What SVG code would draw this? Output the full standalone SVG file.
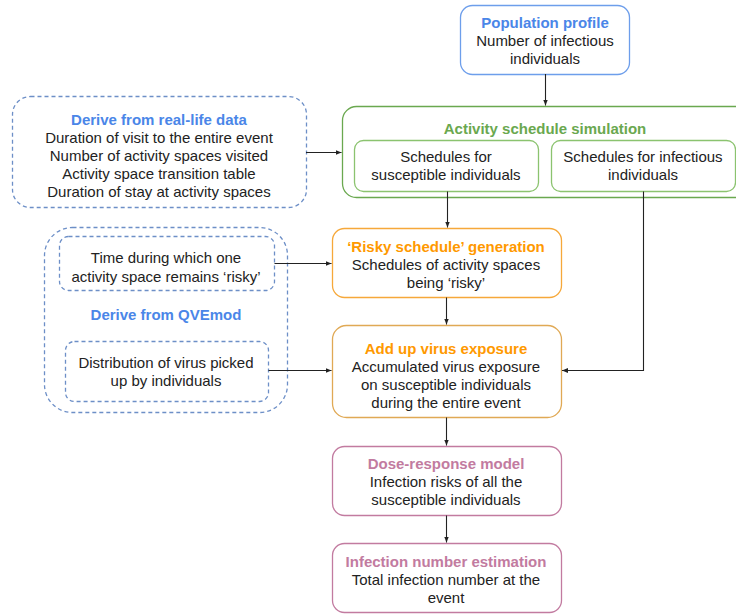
<svg xmlns="http://www.w3.org/2000/svg" width="736" height="614" viewBox="0 0 736 614">
<defs>
<marker id="ah" viewBox="0 0 10 10" refX="10" refY="5" markerWidth="6" markerHeight="6" markerUnits="userSpaceOnUse" orient="auto">
<path d="M0,1 L10,5 L0,9 z" fill="#222"/>
</marker>
<style>
text{font-family:"Liberation Sans",Arial,sans-serif;font-size:15px;fill:#222;text-anchor:middle;dominant-baseline:central}
.t{font-weight:bold}
.blue{fill:#4a86e8}.green{fill:#6aa84f}.orange{fill:#ff9900}.pink{fill:#c27ba0}
.box{fill:#fff;stroke-width:1.3}
.dash{fill:#fff;stroke:#6d8fc7;stroke-width:1.3;stroke-dasharray:4,3}
.c{fill:none;stroke:#222;stroke-width:1.1;marker-end:url(#ah)}
</style>
</defs>
<rect width="736" height="614" fill="#fff"/>
<g id="population">
<rect class="box" x="460.5" y="5.5" width="169" height="69" rx="12" stroke="#6d9eeb"/>
<text class="t blue" x="545" y="22">Population profile</text>
<text x="545" y="40">Number of infectious</text>
<text x="545" y="58">individuals</text>
</g>
<g id="reallife">
<rect class="dash" x="12.5" y="96.5" width="294" height="111" rx="18"/>
<text class="t blue" x="159" y="119">Derive from real-life data</text>
<text x="159" y="137">Duration of visit to the entire event</text>
<text x="159" y="155">Number of activity spaces visited</text>
<text x="159" y="173">Activity space transition table</text>
<text x="159" y="191">Duration of stay at activity spaces</text>
</g>
<g id="activity">
<rect class="box" x="342.5" y="106.5" width="410" height="91" rx="14" stroke="#6aa84f"/>
<text class="t green" x="545" y="128">Activity schedule simulation</text>
<g id="susceptible">
<rect class="box" x="354.5" y="140.5" width="184" height="51" rx="9" stroke="#8bc36f"/>
<text x="446" y="156">Schedules for</text>
<text x="446" y="174">susceptible individuals</text>
</g>
<g id="infectious">
<rect class="box" x="551.5" y="140.5" width="184" height="51" rx="9" stroke="#8bc36f"/>
<text x="643" y="156">Schedules for infectious</text>
<text x="643" y="174">individuals</text>
</g>
</g>
<g id="qvemod">
<rect class="dash" x="44.5" y="227.5" width="243" height="185" rx="28"/>
<text class="t blue" x="166" y="314">Derive from QVEmod</text>
<g id="risktime">
<rect class="dash" x="59.5" y="236.5" width="215" height="54" rx="9"/>
<text x="166" y="257">Time during which one</text>
<text x="166" y="276">activity space remains ‘risky’</text>
</g>
<g id="virusdist">
<rect class="dash" x="65.5" y="341.5" width="203" height="60" rx="9"/>
<text x="166" y="362">Distribution of virus picked</text>
<text x="166" y="380">up by individuals</text>
</g>
</g>
<g id="risky">
<rect class="box" x="332.5" y="228.5" width="229" height="69" rx="12" stroke="#f6a83a"/>
<text class="t orange" x="446" y="246">‘Risky schedule’ generation</text>
<text x="446" y="264">Schedules of activity spaces</text>
<text x="446" y="282">being ‘risky’</text>
</g>
<g id="addup">
<rect class="box" x="332.5" y="325.5" width="229" height="92" rx="14" stroke="#e0a955"/>
<text class="t orange" x="446" y="348">Add up virus exposure</text>
<text x="446" y="366">Accumulated virus exposure</text>
<text x="446" y="384">on susceptible individuals</text>
<text x="446" y="402">during the entire event</text>
</g>
<g id="dose">
<rect class="box" x="332.5" y="446.5" width="229" height="69" rx="12" stroke="#c27ba0"/>
<text class="t pink" x="446" y="463">Dose-response model</text>
<text x="446" y="481">Infection risks of all the</text>
<text x="446" y="499">susceptible individuals</text>
</g>
<g id="estimation">
<rect class="box" x="332.5" y="543.5" width="229" height="69" rx="12" stroke="#c27ba0"/>
<text class="t pink" x="446" y="561">Infection number estimation</text>
<text x="446" y="579">Total infection number at the</text>
<text x="446" y="597">event</text>
</g>
<g id="connectors">
<path class="c" d="M545.5,74 V105.5"/>
<path class="c" d="M306,152.5 H341.5"/>
<path class="c" d="M447.5,191.5 V227.5"/>
<path class="c" d="M643.5,191.5 V370.5 H562"/>
<path class="c" d="M274.5,263.5 H331.5"/>
<path class="c" d="M268.5,370.5 H331.5"/>
<path class="c" d="M446.5,297.5 V324.5"/>
<path class="c" d="M446.5,417.5 V445.5"/>
<path class="c" d="M446.5,515.5 V542.5"/>
</g>
</svg>
